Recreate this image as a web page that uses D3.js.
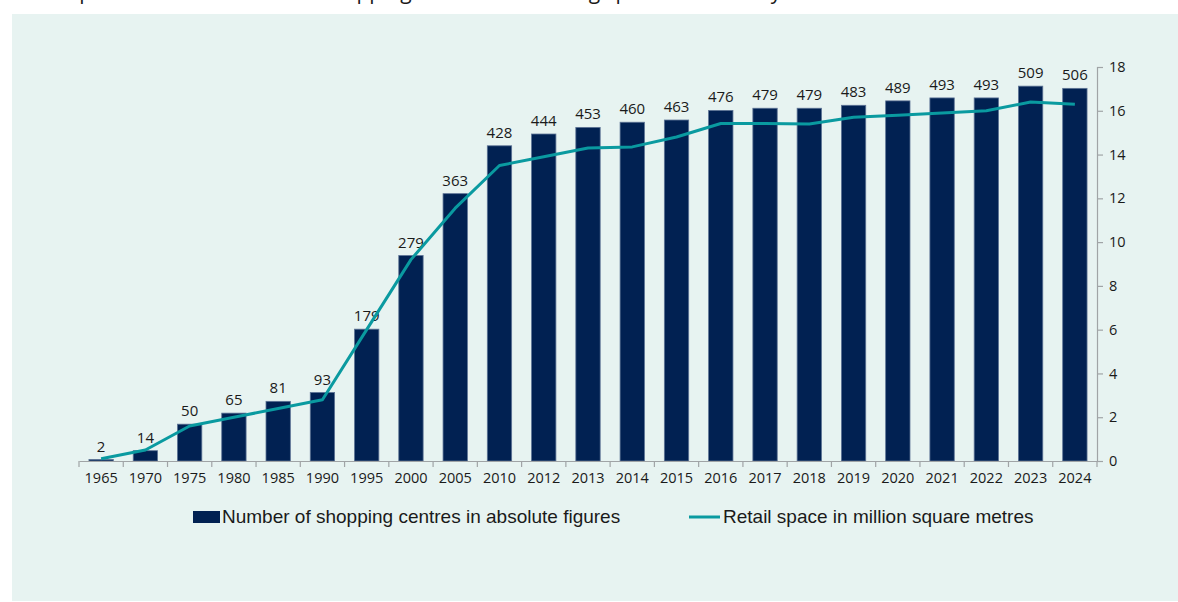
<!DOCTYPE html>
<html>
<head>
<meta charset="utf-8">
<script src="https://cdn.jsdelivr.net/npm/d3@7"></script>
<style>
  body { margin: 0; background: #ffffff; }
  svg { display: block; }
</style>
</head>
<body>
<script>
// Chart data
var years = ["1965", "1970", "1975", "1980", "1985", "1990", "1995", "2000", "2005", "2010", "2012", "2013", "2014", "2015", "2016", "2017", "2018", "2019", "2020", "2021", "2022", "2023", "2024"];
var centres = [2, 14, 50, 65, 81, 93, 179, 279, 363, 428, 444, 453, 460, 463, 476, 479, 479, 483, 489, 493, 493, 509, 506];
var space = [0.1, 0.5, 1.6, 2.0, 2.4, 2.8, 6.0, 9.2, 11.55, 13.5, 13.9, 14.3, 14.35, 14.8, 15.42, 15.42, 15.4, 15.7, 15.8, 15.9, 16.0, 16.4, 16.3];
var rightTicks = [0, 2, 4, 6, 8, 10, 12, 14, 16, 18];
var legendLabels = ["Number of shopping centres in absolute figures", "Retail space in million square metres"];
var titleText = "Development of the number of shopping centres and selling space in Germany since 1965";

var W = 1178, H = 602;
var barColor = "#012152";
var lineColor = "#0a9aa0";
var textColor = "#1a1a1a";
var axisColor = "#a0a4a6";
var numFont = "'Open Sans', 'Noto Sans', sans-serif";

var svg = d3.select("body").append("svg")
    .attr("width", W)
    .attr("height", H);

// Title, mostly cut off by the top edge as in the source picture
svg.append("text")
    .attr("x", 12)
    .attr("y", -1)
    .style("font-family", numFont)
    .style("font-size", "21px")
    .attr("fill", textColor)
    .text(titleText);

// Panel background
svg.append("rect")
    .attr("x", 12)
    .attr("y", 14)
    .attr("width", W - 12)
    .attr("height", H - 15)
    .attr("fill", "#e7f3f1");

// Scales
var x = d3.scaleBand()
    .domain(years)
    .range([79, 1097])
    .padding(0);

var yBar = d3.scaleLinear()
    .domain([0, 535])
    .range([461, 67]);

var yLine = d3.scaleLinear()
    .domain([0, 18])
    .range([461, 67]);

var barW = x.bandwidth() * 0.55;

// Bars
svg.append("g")
    .selectAll("rect")
    .data(centres)
    .enter()
    .append("rect")
        .attr("x", function(d, i) { return x(years[i]) + (x.bandwidth() - barW) / 2; })
        .attr("y", function(d) { return yBar(d); })
        .attr("width", barW)
        .attr("height", function(d) { return yBar(0) - yBar(d); })
        .attr("fill", barColor)
        .attr("stroke", "#5d7395")
        .attr("stroke-width", 0.8);

// Bar value labels
svg.append("g")
    .selectAll("text")
    .data(centres)
    .enter()
    .append("text")
        .attr("x", function(d, i) { return x(years[i]) + x.bandwidth() / 2; })
        .attr("y", function(d) { return yBar(d) - 8; })
        .attr("text-anchor", "middle")
        .style("font-family", numFont)
        .style("font-size", "15px")
        .attr("fill", textColor)
        .text(function(d) { return d; });

// X axis
var xAxis = svg.append("g")
    .attr("transform", "translate(0,461)")
    .call(d3.axisBottom(x).tickSize(0).tickPadding(12));
xAxis.select(".domain").attr("stroke", axisColor).attr("stroke-width", 1.2);
xAxis.selectAll("text")
    .style("font-family", numFont)
    .style("font-size", "14.5px")
    .attr("fill", textColor);

// tick marks on band boundaries
var bounds = years.map(function(d) { return x(d); }).concat([x.range()[1]]);
xAxis.selectAll("line.bound")
    .data(bounds)
    .enter()
    .append("line")
        .attr("class", "bound")
        .attr("x1", function(d) { return d; })
        .attr("x2", function(d) { return d; })
        .attr("y1", 0)
        .attr("y2", 6)
        .attr("stroke", axisColor)
        .attr("stroke-width", 1.2);

// Right axis
var yAxis = svg.append("g")
    .attr("transform", "translate(1097,0)")
    .call(d3.axisRight(yLine).tickValues(rightTicks).tickSize(6).tickPadding(6).tickSizeOuter(6));
yAxis.select(".domain").attr("stroke", axisColor).attr("stroke-width", 1.2);
yAxis.selectAll(".tick line").attr("stroke", axisColor).attr("stroke-width", 1.2);
yAxis.selectAll("text")
    .style("font-family", numFont)
    .style("font-size", "14.5px")
    .attr("fill", textColor);

// Line
var line = d3.line()
    .x(function(d, i) { return x(years[i]) + x.bandwidth() / 2; })
    .y(function(d) { return yLine(d); });

svg.append("path")
    .datum(space)
    .attr("d", line)
    .attr("fill", "none")
    .attr("stroke", lineColor)
    .attr("stroke-width", 3)
    .attr("stroke-linejoin", "round");

// Legend
var legend = svg.append("g").attr("class", "legend");
var legFont = "'Liberation Sans Narrow', 'Arial Narrow', sans-serif";

legend.append("rect")
    .attr("x", 193)
    .attr("y", 511)
    .attr("width", 27)
    .attr("height", 12)
    .attr("fill", barColor);

legend.append("text")
    .attr("x", 222)
    .attr("y", 523)
    .style("font-family", legFont)
    .style("font-size", "19px")
    .attr("fill", textColor)
    .text(legendLabels[0]);

legend.append("line")
    .attr("x1", 689)
    .attr("x2", 720)
    .attr("y1", 517)
    .attr("y2", 517)
    .attr("stroke", lineColor)
    .attr("stroke-width", 3);

legend.append("text")
    .attr("x", 723)
    .attr("y", 523)
    .style("font-family", legFont)
    .style("font-size", "19px")
    .attr("fill", textColor)
    .text(legendLabels[1]);
</script>
</body>
</html>
